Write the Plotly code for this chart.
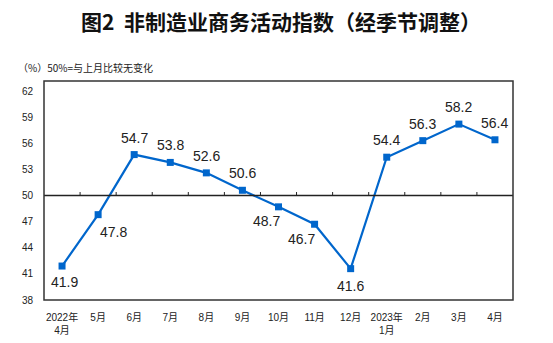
import plotly.graph_objects as go

months = ["2022年<br>4月", "5月", "6月", "7月", "8月", "9月", "10月", "11月", "12月",
          "2023年<br>1月", "2月", "3月", "4月"]
values = [41.9, 47.8, 54.7, 53.8, 52.6, 50.6, 48.7, 46.7, 41.6, 54.4, 56.3, 58.2, 56.4]
# label offsets (pixels) relative to each point
label_dx = [2, 15, 0, 0, 0, 0, -12, -13, 0, 0, 0, 0, 0]
label_dy = [-16, -17, 17, 17, 17, 17, -14, -15, -17, 17, 17, 17, 17]
y_ticks = [38, 41, 44, 47, 50, 53, 56, 59, 62]

FONT = "Liberation Sans, Arial, Noto Sans CJK SC, sans-serif"
BLUE = "#0066CC"

x = list(range(len(months)))

fig = go.Figure()
fig.add_trace(go.Scatter(
    x=x, y=values, mode="lines+markers",
    line=dict(color=BLUE, width=2.2),
    marker=dict(symbol="square", size=7, color=BLUE),
    hoverinfo="skip", showlegend=False,
))

for xi, v, dx, dy in zip(x, values, label_dx, label_dy):
    fig.add_annotation(x=xi, y=v, text=f"{v:.1f}", showarrow=False,
                       xshift=dx, yshift=dy,
                       font=dict(family=FONT, size=14, color="#222222"))

# 50 reference line with category boundary ticks
fig.add_shape(type="line", xref="x", yref="y", x0=-0.5, x1=len(months) - 0.5,
              y0=50, y1=50, line=dict(color="#222222", width=1.3))
for b in range(len(months) - 1):
    fig.add_shape(type="line", xref="x", yref="y", x0=b + 0.5, x1=b + 0.5,
                  y0=50, y1=50.4, line=dict(color="#222222", width=1))

# plot frame
fig.add_shape(type="rect", xref="paper", yref="paper", x0=0, x1=1, y0=0, y1=1,
              line=dict(color="#333333", width=1.5))

fig.add_annotation(xref="paper", yref="paper", x=0.5, y=1, yshift=60, xshift=2,
                   xanchor="center", yanchor="middle", showarrow=False,
                   text="<b>图2  非制造业商务活动指数（经季节调整）</b>",
                   font=dict(family="Noto Sans CJK SC, sans-serif", size=21, color="#111111"))
fig.add_annotation(xref="paper", yref="paper", x=0, y=1, xshift=-28, yshift=14,
                   xanchor="left", yanchor="middle", showarrow=False,
                   text="（%）50%=与上月比较无变化",
                   font=dict(family="Noto Sans CJK SC, sans-serif", size=10, color="#222222"))

fig.update_xaxes(range=[-0.5, len(months) - 0.5], tickmode="array", tickvals=x,
                 ticktext=months, showgrid=False, zeroline=False, ticks="",
                 ticklabelstandoff=10, automargin=False,
                 tickfont=dict(family=FONT, size=10, color="#222222"), showline=False)
fig.update_yaxes(range=[38, 63.15], tickmode="array", tickvals=y_ticks,
                 showgrid=False, zeroline=False, ticks="", showline=False,
                 ticklabelstandoff=10, automargin=False,
                 tickfont=dict(family=FONT, size=10, color="#222222"))

fig.update_layout(width=553, height=343, margin=dict(l=44, r=40, t=81, b=43),
                  paper_bgcolor="white", plot_bgcolor="white")

fig.write_html("out.html")
